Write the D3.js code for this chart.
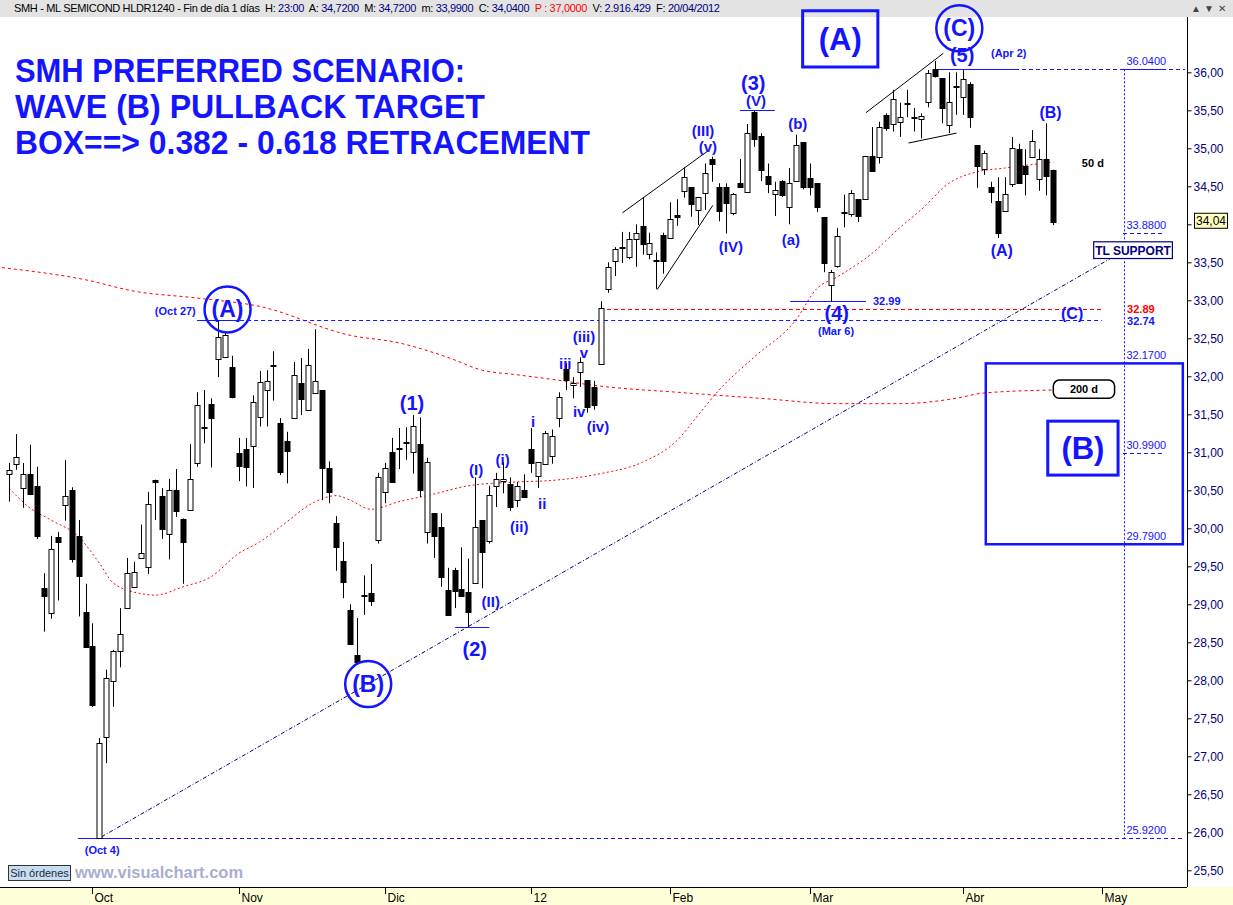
<!DOCTYPE html>
<html><head><meta charset="utf-8">
<script src="https://cdn.jsdelivr.net/npm/d3@7/dist/d3.min.js"></script>
<style>body{margin:0;background:#fff;}svg{display:block;font-family:"Liberation Sans",Arial,sans-serif;}</style>
</head><body><svg id="c" width="1233" height="905"></svg>
<script>
// ---------------- DATA ----------------
const dates = ["15/09","16/09","19/09","20/09","21/09","22/09","23/09","26/09","27/09","28/09","29/09","30/09",
"03/10","04/10","05/10","06/10","07/10","10/10","11/10","12/10","13/10","14/10","17/10","18/10","19/10","20/10","21/10","24/10","25/10","26/10","27/10","28/10","31/10",
"01/11","02/11","03/11","04/11","07/11","08/11","09/11","10/11","11/11","14/11","15/11","16/11","17/11","18/11","21/11","22/11","23/11","25/11","28/11","29/11","30/11",
"01/12","02/12","05/12","06/12","07/12","08/12","09/12","12/12","13/12","14/12","15/12","16/12","19/12","20/12","21/12","22/12","23/12","27/12","28/12","29/12","30/12",
"03/01","04/01","05/01","06/01","09/01","10/01","11/01","12/01","13/01","17/01","18/01","19/01","20/01","23/01","24/01","25/01","26/01","27/01","30/01","31/01",
"01/02","02/02","03/02","06/02","07/02","08/02","09/02","10/02","13/02","14/02","15/02","16/02","17/02","21/02","22/02","23/02","24/02","27/02","28/02","29/02",
"01/03","02/03","05/03","06/03","07/03","08/03","09/03","12/03","13/03","14/03","15/03","16/03","19/03","20/03","21/03","22/03","23/03","26/03","27/03","28/03","29/03","30/03",
"02/04","03/04","04/04","05/04","09/04","10/04","11/04","12/04","13/04","16/04","17/04","18/04","19/04","20/04"];
const open = [30.72,30.85,30.53,30.72,30.56,29.22,28.89,29.88,30.30,30.50,29.90,28.90,
28.45,25.92,27.25,28.00,28.38,28.95,29.23,29.61,29.49,30.64,30.42,29.92,30.51,30.12,30.24,30.86,31.32,31.63,32.23,32.25,32.12,
30.99,31.05,31.08,31.46,31.82,32.14,31.39,31.15,31.46,31.91,31.56,31.78,31.82,30.80,30.07,29.57,28.93,28.33,29.11,29.15,29.84,
30.48,31.00,31.05,31.12,31.00,31.11,29.95,30.20,30.02,29.19,29.45,29.20,29.16,29.28,30.11,29.83,30.56,30.62,30.58,30.37,30.51,
31.04,30.69,30.84,30.95,31.45,32.09,31.88,32.06,31.95,31.86,32.16,33.15,33.52,33.69,33.57,33.81,33.98,33.61,33.52,33.86,
33.82,34.12,34.43,34.49,34.19,34.41,34.86,34.49,34.49,34.15,34.54,34.43,35.48,35.16,34.63,34.40,34.57,34.23,34.56,35.08,
34.61,34.54,34.09,33.20,33.44,34.15,34.14,34.33,34.34,34.90,34.88,35.44,35.32,35.35,35.59,35.40,35.38,35.61,36.04,35.92,35.31,35.81,
35.67,35.85,35.04,34.73,34.49,34.31,34.18,34.54,34.99,34.77,34.89,34.60,34.86,34.72];
const high = [30.86,31.24,30.86,31.10,30.81,29.41,29.90,29.95,30.90,30.54,30.11,29.27,
28.75,27.24,28.14,28.40,28.95,29.61,29.56,30.05,30.48,30.64,30.53,30.65,30.78,30.13,31.11,31.79,31.82,31.71,32.74,32.58,32.27,
31.19,31.19,31.75,32.07,32.08,32.33,31.45,31.27,32.19,32.24,32.36,32.62,31.82,30.88,30.16,29.82,29.00,28.82,29.38,29.53,30.73,
30.86,31.19,31.32,31.33,31.49,31.46,30.93,30.20,30.20,29.48,29.48,29.75,29.60,30.67,30.11,30.56,30.73,30.87,30.67,30.61,30.71,
31.32,30.87,31.28,31.30,31.79,32.17,31.99,32.25,31.95,31.94,32.99,33.50,33.70,33.90,33.90,34.00,34.36,33.89,33.63,33.89,
34.29,34.33,34.75,34.49,34.36,34.80,34.89,34.54,34.54,34.41,34.86,35.32,35.49,35.20,34.80,34.56,34.58,34.74,35.18,35.08,
34.80,34.54,34.09,33.40,33.95,34.39,34.45,34.33,34.90,35.28,35.35,35.46,35.77,35.60,35.77,35.53,35.46,36.03,36.15,35.92,36.00,36.00,
36.04,35.87,35.04,34.97,34.56,34.62,34.62,35.15,35.06,34.99,35.24,34.99,35.33,34.72];
const low = [30.35,30.77,30.27,30.45,29.86,28.64,28.81,29.05,30.10,29.55,28.84,28.44,
27.65,25.92,26.91,27.65,28.17,28.95,29.22,29.61,29.40,30.11,29.86,29.59,30.15,29.27,30.24,30.81,31.12,30.80,31.99,32.24,31.71,
30.62,30.55,30.53,31.34,31.34,31.68,30.70,30.59,31.46,31.49,31.56,31.78,30.37,30.33,29.44,29.08,28.47,28.24,28.86,28.98,29.80,
30.33,30.60,30.78,30.90,30.72,30.41,29.80,29.61,29.23,28.86,28.95,29.11,28.70,29.28,29.21,29.80,30.28,30.46,30.23,30.28,30.41,
30.73,30.53,30.84,30.85,31.33,31.82,31.71,31.86,31.52,31.56,32.16,33.10,33.32,33.49,33.54,33.44,33.60,33.54,33.15,33.35,
33.81,33.98,34.35,34.10,33.99,34.19,34.56,34.04,33.88,34.12,34.49,34.43,35.02,34.57,34.41,34.11,34.36,34.00,34.56,34.46,
34.38,34.16,33.37,32.99,33.43,33.96,34.10,34.03,34.34,34.70,34.80,35.23,35.22,35.15,35.41,35.22,35.13,35.54,35.93,35.33,35.20,35.44,
35.44,35.27,34.48,34.65,34.28,33.82,34.18,34.49,34.54,34.38,34.89,34.44,34.38,33.99];
const close = [30.77,30.94,30.72,30.46,29.90,29.11,29.73,29.81,30.42,29.59,29.37,28.44,
27.67,27.17,28.03,28.39,28.61,29.41,29.43,29.68,30.32,30.61,29.99,30.50,30.23,29.82,30.65,31.62,31.33,31.44,32.52,32.54,31.73,
30.82,30.81,31.66,31.92,31.94,32.15,30.74,31.02,32.02,31.70,32.15,31.94,30.80,30.48,29.75,29.30,28.48,28.24,29.12,29.04,30.67,
30.80,30.60,31.06,31.13,31.34,30.50,30.87,29.90,29.36,28.86,29.17,29.11,28.90,30.02,29.69,30.44,30.65,30.65,30.28,30.56,30.42,
30.86,30.87,31.25,31.21,31.73,31.94,31.91,32.19,31.60,31.62,32.90,33.44,33.68,33.70,33.81,33.89,33.74,33.75,33.53,33.52,
34.07,34.09,34.62,34.26,34.36,34.67,34.79,34.18,34.28,34.40,34.49,35.20,35.13,34.71,34.53,34.45,34.38,34.54,35.04,34.49,
34.49,34.23,33.49,33.37,33.84,34.16,34.41,34.10,34.90,34.70,35.28,35.27,35.65,35.41,35.60,35.41,35.42,35.99,35.95,35.53,35.61,35.82,
35.91,35.41,34.77,34.94,34.43,33.89,34.40,35.01,34.54,34.67,35.10,34.86,34.64,34.04];

// moving averages (candle index, value)
const ma50Idx  = [0,3,6,10,13,15,19,21,25,29,33,36,39,44,47,49,52,56,61,66,73,78,85,91,96,99,102,107,113,116,119,124,128,131,135,139,143,150];
const ma50Val  = [30.53,30.27,30.11,29.89,29.54,29.28,29.14,29.12,29.23,29.36,29.67,29.82,30.02,30.35,30.43,30.37,30.25,30.35,30.45,30.56,30.61,30.63,30.72,30.87,31.16,31.49,31.82,32.25,32.74,33.15,33.31,33.62,33.96,34.19,34.54,34.69,34.74,34.82];
const ma200Idx = [-1,11,18,27,36,49,56,63,68,73,78,85,96,108,119,128,136,140,150];
const ma200Val = [33.43,33.27,33.12,33.03,32.92,32.54,32.44,32.25,32.08,32.02,31.96,31.87,31.79,31.71,31.64,31.64,31.71,31.78,31.82];

const priceTicks = [25.5,26,26.5,27,27.5,28,28.5,29,29.5,30,30.5,31,31.5,32,32.5,33,33.5,34,34.5,35,35.5,36];
const monthLabels = ["Oct","Nov","Dic","12","Feb","Mar","Abr","May"];
const monthIdx = [12,33,54,75,95,115,137,157];
const fibLevels = [36.04,33.88,32.17,30.99,29.79,25.92];
const fibLabels = ["36.0400","33.8800","32.1700","30.9900","29.7900","25.9200"];
const lastPrice = "34,04";
const titleLines = ["SMH PREFERRED SCENARIO:","WAVE (B) PULLBACK TARGET","BOX==> 0.382 - 0.618 RETRACEMENT"];

// ---------------- SCALES ----------------
const W = 1233, H = 905, axisX = 1187, plotTop = 17, plotBot = 887;
const x = d3.scaleLinear().domain([-1.28, 169.2]).range([0, axisX]);
const y = d3.scaleLinear().domain([25.28, 36.728]).range([plotBot, plotTop]);
const svg = d3.select("#c");
const BLUE = "#1414ff", NAVY = "#000080", RED = "#ff0000";

svg.append("rect").attr("width", W).attr("height", H).attr("fill", "#fff");
svg.append("rect").attr("x",0).attr("y",0).attr("width",W).attr("height",plotTop).attr("fill","#e3e3e3");
svg.append("rect").attr("x",0).attr("y",plotBot).attr("width",W).attr("height",H-plotBot).attr("fill","#ffffd9");
svg.append("line").attr("x1",0).attr("x2",axisX).attr("y1",plotBot+0.5).attr("y2",plotBot+0.5).attr("stroke","#000");

// header text
const hdr = [["SMH - ML SEMICOND HLDR1240 - Fin de día 1 días  H: ","#000"],["23:00",NAVY],["  A: ","#000"],["34,7200",NAVY],["  M: ","#000"],["34,7200",NAVY],
["  m: ","#000"],["33,9900",NAVY],["  C: ","#000"],["34,0400",NAVY],["  ","#000"],["P : 37,0000",RED],["  V: ","#000"],["2.916.429",NAVY],["  F: ","#000"],["20/04/2012",NAVY]];
const ht = svg.append("text").attr("x",14).attr("y",12).attr("font-size",11).style("white-space","pre");
hdr.forEach(h=>ht.append("tspan").attr("fill",h[1]).text(h[0]));
ht.attr("textLength",706).attr("lengthAdjust","spacing");
[1196,1209,1222].forEach((bx,k)=>{
  svg.append("text").attr("x",bx).attr("y",12).attr("font-size",10).attr("text-anchor","middle").attr("fill","#444").text(["▲","▼","✕"][k]);
});

// ---------------- RIGHT AXIS ----------------
svg.append("line").attr("x1",axisX+0.5).attr("x2",axisX+0.5).attr("y1",plotTop).attr("y2",plotBot).attr("stroke","#000");
const lastClose = close[close.length-1];
const yAxis = d3.axisRight(y).tickValues(priceTicks).tickSize(4).tickPadding(2)
  .tickFormat(d=> Math.abs(d-lastClose) < 0.1 ? "" : d3.format(".2f")(d).replace(".",","));
const ya = svg.append("g").attr("transform",`translate(${axisX+0.5},0)`).call(yAxis);
ya.select(".domain").remove();
ya.selectAll("text").attr("font-size",12).attr("fill",NAVY).attr("font-family","Liberation Sans, Arial, sans-serif");
ya.selectAll("line").attr("stroke","#000");
const lpY = y(lastClose);
svg.append("rect").attr("x",1194.5).attr("y",lpY-8).attr("width",33).attr("height",15).attr("fill","#ffffc0").attr("stroke","#000");
svg.append("text").attr("x",1211).attr("y",lpY+4).attr("font-size",12).attr("text-anchor","middle").attr("fill","#000").text(lastPrice);

// ---------------- X AXIS ----------------
monthIdx.forEach((mi,k)=>{
  const mx = Math.round(x(mi))+0.5;
  svg.append("line").attr("x1",mx).attr("x2",mx).attr("y1",plotBot).attr("y2",plotBot+7).attr("stroke","#000");
  svg.append("text").attr("x",mx+2).attr("y",plotBot+15).attr("font-size",12).attr("fill","#000").text(monthLabels[k]);
});

// ---------------- MOVING AVERAGES ----------------
const line = d3.line().x(d=>x(d[0])).y(d=>y(d[1])).curve(d3.curveMonotoneX);
svg.append("path").attr("d",line(ma200Idx.map((v,k)=>[v,ma200Val[k]]))).attr("fill","none").attr("stroke",RED).attr("stroke-dasharray","3,3");
svg.append("path").attr("d",line(ma50Idx.map((v,k)=>[v,ma50Val[k]]))).attr("fill","none").attr("stroke",RED).attr("stroke-dasharray","2,2.5");

// ---------------- LEVEL LINES ----------------
function hline(i1,i2,p,color,dash,w){
  const l = svg.append("line").attr("x1",x(i1)).attr("x2",x(i2)).attr("y1",Math.round(y(p))+0.5).attr("y2",Math.round(y(p))+0.5)
    .attr("stroke",color).attr("stroke-width",w||1);
  if(dash) l.attr("stroke-dasharray",dash);
  return l;
}
const fibI = 160.1;
svg.append("line").attr("x1",Math.round(x(fibI))+0.5).attr("x2",Math.round(x(fibI))+0.5).attr("y1",y(fibLevels[0])).attr("y2",y(fibLevels[5]))
  .attr("stroke",BLUE).attr("stroke-dasharray","2,2");
hline(133,144.5,fibLevels[0],BLUE);
hline(144.5,168.9,fibLevels[0],BLUE,"4,3");
hline(160.0,165.8,fibLevels[0],BLUE);
hline(160.0,165.8,fibLevels[1],BLUE,"4,3");
hline(160.0,165.8,fibLevels[3],BLUE,"4,3");
hline(9.9,17.1,fibLevels[5],BLUE);
hline(17.1,168.6,fibLevels[5],BLUE,"4,3");
fibLabels.forEach((t,k)=>{
  svg.append("text").attr("x",x(160.5)).attr("y",y(fibLevels[k])-4).attr("font-size",11).attr("fill",BLUE).text(t);
});
svg.append("rect").attr("x",x(140.3)).attr("y",y(32.17)).attr("width",x(168.6)-x(140.3)).attr("height",y(29.79)-y(32.17))
  .attr("fill","none").attr("stroke",BLUE).attr("stroke-width",2.5);
hline(85.9,157.0,32.89,RED,"4,3");
hline(27.0,32.2,32.74,BLUE);
hline(32.2,157.0,32.74,BLUE,"4,3");
svg.append("text").attr("x",x(160.6)).attr("y",y(32.89)+4).attr("font-size",11).attr("font-weight","bold").attr("fill",RED).text("32.89");
svg.append("text").attr("x",x(160.6)).attr("y",y(32.74)+5).attr("font-size",11).attr("font-weight","bold").attr("fill",BLUE).text("32.74");
hline(112.2,123.1,32.99,BLUE);
hline(105.0,110.0,35.50,BLUE);
hline(64.1,69.0,28.70,BLUE);

// trend line
const tl = [[13.3,25.94],[158.2,33.55]];
svg.append("line").attr("x1",x(tl[0][0])).attr("y1",y(tl[0][1])).attr("x2",x(tl[1][0])).attr("y2",y(tl[1][1]))
  .attr("stroke",NAVY).attr("stroke-dasharray","4,2,1,2");

// wedge lines
[[[88.1,34.15],[100.45,34.97]],[[93.1,33.14],[101.1,34.25]],[[123.1,35.47],[134.2,36.25]],[[129.2,35.07],[136.1,35.20]]].forEach(s=>{
  svg.append("line").attr("x1",x(s[0][0])).attr("y1",y(s[0][1])).attr("x2",x(s[1][0])).attr("y2",y(s[1][1])).attr("stroke","#000");
});

// ---------------- CANDLES ----------------
const cg = svg.append("g");
dates.forEach((d,i)=>{
  const cx = Math.round(x(i))+0.5;
  cg.append("line").attr("x1",cx).attr("x2",cx).attr("y1",y(high[i])).attr("y2",y(low[i])).attr("stroke","#000");
  const top = y(Math.max(open[i],close[i])), bot = y(Math.min(open[i],close[i]));
  const up = close[i] >= open[i];
  cg.append("rect").attr("x",cx-2.5).attr("y",Math.round(top)+0.5).attr("width",5).attr("height",Math.max(0.01,Math.round(bot-top)))
    .attr("fill",up?"#fff":"#000").attr("stroke","#000");
});

// ---------------- ANNOTATIONS ----------------
function lab(t,i,p,size,opt){
  opt = opt||{};
  return svg.append("text").attr("x",x(i)).attr("y",y(p)).attr("font-size",size).attr("font-weight",opt.w||"bold")
    .attr("text-anchor",opt.a||"middle").attr("fill",opt.c||BLUE).text(t);
}
lab("(1)",57.9,31.56,20); lab("(2)",66.9,28.32,20); lab("(3)",106.9,35.77,20);
lab("(4)",118.9,32.74,20); lab("(5)",136.9,36.14,20);
[["(V)",107.3,35.56],["(III)",99.7,35.16],["(v)",100.4,34.95],["(IV)",103.7,33.64],["(a)",112.3,33.73],["(b)",113.3,35.25],
 ["(iii)",82.6,32.45],["v",82.6,32.24],["iii",79.9,32.10],["iv",81.9,31.46],["(iv)",84.6,31.27],["i",75.3,31.33],["ii",76.6,30.25],
 ["(i)",70.9,30.83],["(ii)",73.3,29.95],["(I)",67.1,30.70],["(II)",69.2,28.96]].forEach(a=>lab(a[0],a[1],a[2],15));
[["(B)",149.6,35.40],["(A)",142.6,33.58],["(C)",152.7,32.75]].forEach(a=>lab(a[0],a[1],a[2],16));
lab("(Mar 6)",118.8,32.55,11); lab("(Apr 2)",143.6,36.20,11); lab("(Oct 27)",23.9,32.81,11); lab("(Oct 4)",13.4,25.71,11);
lab("32.99",124.1,32.94,11,{a:"start"});
lab("50 d",154.1,34.75,11,{a:"start",c:"#000"});

[["(A)",31.4,32.88],["(B)",51.6,27.95],["(C)",136.5,36.58]].forEach(a=>{
  svg.append("circle").attr("cx",x(a[1])).attr("cy",y(a[2])).attr("r",23).attr("fill","none").attr("stroke",BLUE).attr("stroke-width",2.5);
  svg.append("text").attr("x",x(a[1])).attr("y",y(a[2])+8).attr("font-size",23).attr("font-weight","bold").attr("text-anchor","middle").attr("fill",BLUE).text(a[0]);
});
[["(A)",114.0,124.8,36.81,36.07],["(B)",149.2,159.3,31.41,30.70]].forEach(a=>{
  const bx=x(a[1]), bw=x(a[2])-x(a[1]), by=y(a[3]), bh=y(a[4])-y(a[3]);
  svg.append("rect").attr("x",bx).attr("y",by).attr("width",bw).attr("height",bh).attr("fill","none").attr("stroke",BLUE).attr("stroke-width",3);
  svg.append("text").attr("x",bx+bw/2).attr("y",by+bh/2+11).attr("font-size",31).attr("font-weight","bold").attr("text-anchor","middle").attr("fill",BLUE).text(a[0]);
});
{
  const bx=x(155.8), by=y(33.77), bw=x(167.1)-x(155.8), bh=y(33.55)-y(33.77);
  svg.append("rect").attr("x",bx).attr("y",by).attr("width",bw).attr("height",bh).attr("fill","#fff").attr("stroke",NAVY).attr("stroke-width",1.2);
  svg.append("text").attr("x",bx+bw/2).attr("y",by+bh/2+4.5).attr("font-size",12).attr("font-weight","bold").attr("text-anchor","middle").attr("fill",NAVY).text("TL SUPPORT");
}
{
  const bx=x(150.0), by=y(31.95), bw=x(158.8)-x(150.0), bh=y(31.71)-y(31.95);
  svg.append("rect").attr("x",bx).attr("y",by).attr("width",bw).attr("height",bh).attr("rx",6).attr("fill","#fff").attr("stroke","#000").attr("stroke-width",1.5);
  svg.append("text").attr("x",bx+bw/2).attr("y",by+bh/2+4).attr("font-size",11).attr("font-weight","bold").attr("text-anchor","middle").attr("fill","#000").text("200 d");
}

// title
const titleW = [450,470,575];
titleLines.forEach((t,k)=>{
  svg.append("text").attr("transform",`translate(15,${82+36*k}) scale(1,1.1)`).attr("font-size",31).attr("font-weight","bold")
    .attr("textLength",titleW[k]).attr("lengthAdjust","spacingAndGlyphs").attr("fill",BLUE).text(t);
});

// footer
svg.append("rect").attr("x",8.5).attr("y",865.5).attr("width",62).attr("height",15).attr("fill","#c9dcf2").attr("stroke","#333");
svg.append("text").attr("x",39.5).attr("y",877).attr("font-size",11).attr("text-anchor","middle").attr("fill","#1a2a3a").text("Sin órdenes");
svg.append("text").attr("x",75).attr("y",878).attr("font-size",16.5).attr("font-weight","bold").attr("fill","#a9aed0").text("www.visualchart.com");
</script></body></html>
